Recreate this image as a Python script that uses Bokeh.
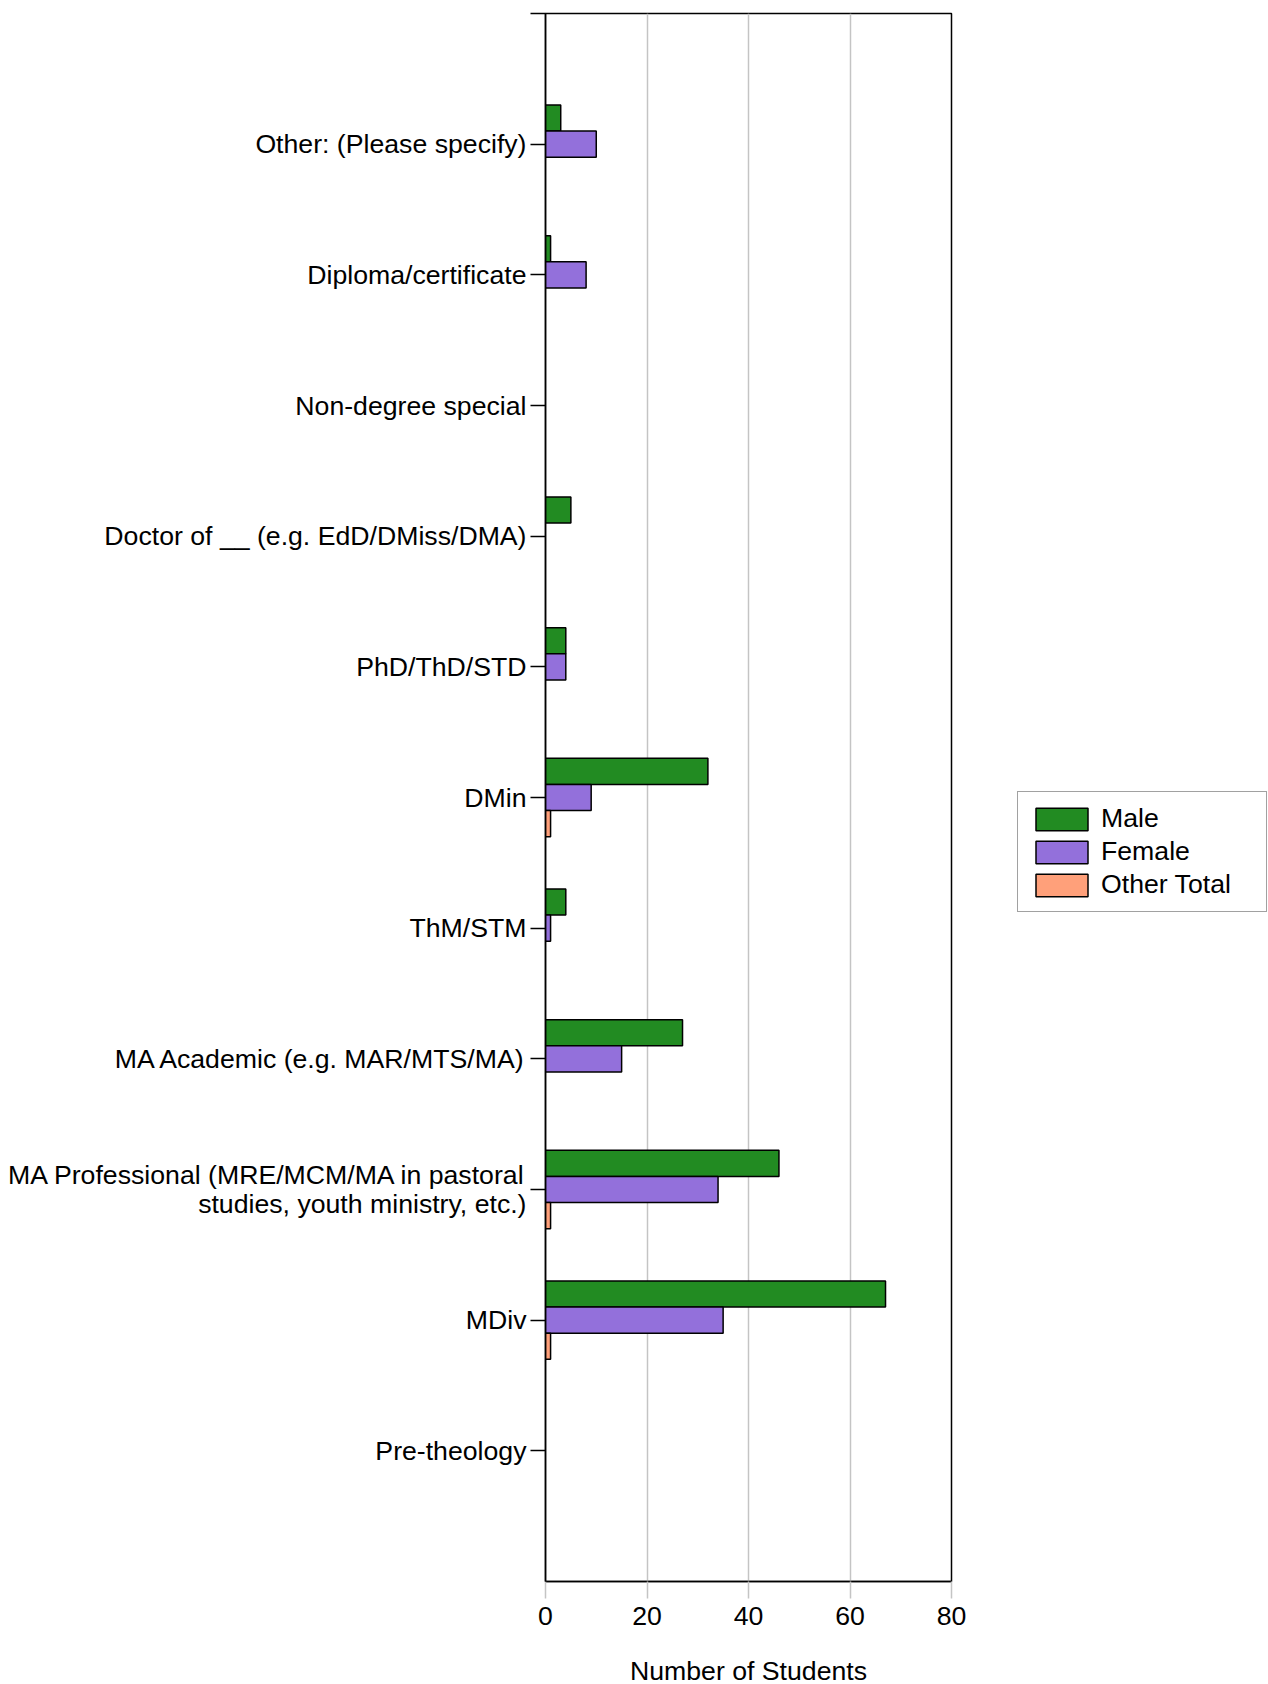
from bokeh.plotting import figure
from bokeh.models import ColumnDataSource, FixedTicker, Legend, LegendItem, Range1d
from bokeh.embed import file_html
from bokeh.resources import INLINE

categories = [
    "Pre-theology",
    "MDiv",
    "MA Professional (MRE/MCM/MA in pastoral\nstudies, youth ministry, etc.)",
    "MA Academic (e.g. MAR/MTS/MA)",
    "ThM/STM",
    "DMin",
    "PhD/ThD/STD",
    "Doctor of __ (e.g. EdD/DMiss/DMA)",
    "Non-degree special",
    "Diploma/certificate",
    "Other: (Please specify)",
]
male = [0, 67, 46, 27, 4, 32, 4, 5, 0, 1, 3]
female = [0, 35, 34, 15, 1, 9, 4, 0, 0, 8, 10]
other_total = [0, 1, 1, 0, 0, 1, 0, 0, 0, 0, 0]
series_names = ["Male", "Female", "Other Total"]
series_colors = ["#228B22", "#9370DB", "#FFA07A"]
x_ticks = [0, 20, 40, 60, 80]

FONT = "Liberation Sans"
FS = "20pt"

p = figure(frame_width=406, frame_height=1568, output_backend="svg", toolbar_location=None,
           x_range=Range1d(0, 80), y_range=Range1d(0, len(categories) + 1),
           min_border_left=545, min_border_right=0, min_border_top=13,
           min_border_bottom=100)

positions = list(range(1, len(categories) + 1))
offsets = [0.2, 0.0, -0.2]
renderers = []
for vals, off, col in zip([male, female, other_total], offsets, series_colors):
    ys = [pos + off for pos, v in zip(positions, vals) if v > 0]
    xs = [v for v in vals if v > 0]
    src = ColumnDataSource(dict(y=ys, right=xs))
    r = p.hbar(y="y", right="right", left=0, height=0.2, source=src,
               fill_color=col, line_color="black", line_width=1.5)
    renderers.append(r)

# axes
p.xaxis.ticker = FixedTicker(ticks=x_ticks)
p.xaxis.minor_tick_line_color = None
p.xaxis.major_tick_in = 0
p.xaxis.major_tick_out = 17
p.xaxis.major_tick_line_color = "#c4c4c4"
p.xaxis.major_tick_line_width = 1.5
p.xaxis.axis_line_color = "black"
p.xaxis.axis_line_width = 1.5
p.xaxis.major_label_standoff = 8
p.xaxis.axis_label = "Number of Students"
p.xaxis.axis_label_standoff = 28
p.xaxis.axis_label_text_font_style = "normal"

p.yaxis.ticker = FixedTicker(ticks=positions + [len(categories) + 1])
overrides = {pos: c for pos, c in zip(positions, categories)}
overrides[len(categories) + 1] = ""
p.yaxis.major_label_overrides = overrides
p.yaxis.minor_tick_line_color = None
p.yaxis.major_tick_in = 0
p.yaxis.major_tick_out = 15
p.yaxis.major_tick_line_color = "black"
p.yaxis.major_tick_line_width = 1.5
p.yaxis.axis_line_color = "black"
p.yaxis.axis_line_width = 1.5
p.yaxis.major_label_standoff = 4
p.yaxis.major_label_text_line_height = 0.95

for ax in [p.xaxis, p.yaxis]:
    ax.major_label_text_font = FONT
    ax.major_label_text_font_size = FS
    ax.major_label_text_color = "black"
    ax.axis_label_text_font = FONT
    ax.axis_label_text_font_size = FS
    ax.axis_label_text_color = "black"

p.xgrid.grid_line_color = "#c4c4c4"
p.xgrid.grid_line_width = 1.5
p.ygrid.grid_line_color = None
p.outline_line_color = "black"
p.outline_line_width = 1.5
p.outline_line_alpha = 1.0

legend = Legend(items=[LegendItem(label=n, renderers=[r]) for n, r in zip(series_names, renderers)])
legend.location = (66, 669)
legend.margin = 0
legend.padding = 11
legend.spacing = 2
legend.glyph_width = 65
legend.glyph_height = 28
legend.label_height = 22
legend.label_width = 154
legend.label_standoff = 7
legend.label_text_font = FONT
legend.label_text_font_size = FS
legend.label_text_color = "black"
legend.border_line_color = "#444444"
legend.border_line_width = 1.5
legend.background_fill_alpha = 1.0
p.add_layout(legend, "right")

open("out.html", "w").write(file_html(p, INLINE))
